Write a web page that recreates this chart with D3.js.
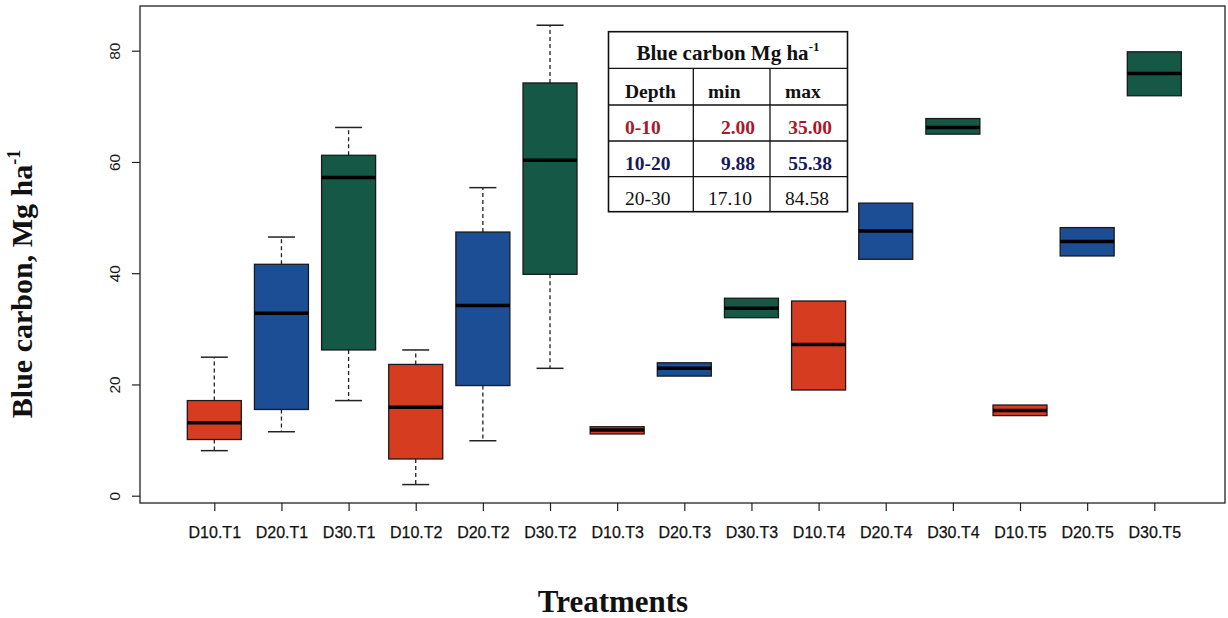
<!DOCTYPE html>
<html>
<head>
<meta charset="utf-8">
<script src="https://cdn.jsdelivr.net/npm/d3@7"></script>
<style>
  html, body { margin: 0; padding: 0; background: #fff; }
  svg { display: block; }
</style>
</head>
<body>
<svg id="chart" width="1228" height="618"></svg>
<script>
// ---------------- data ----------------
const categories = ["D10.T1","D20.T1","D30.T1","D10.T2","D20.T2","D30.T2","D10.T3","D20.T3","D30.T3","D10.T4","D20.T4","D30.T4","D10.T5","D20.T5","D30.T5"];
const depthGroup = ["0-10","10-20","20-30","0-10","10-20","20-30","0-10","10-20","20-30","0-10","10-20","20-30","0-10","10-20","20-30"];
const whiskerLow  = [8.1, 11.5, 17.1, 2.0, 9.88, 22.9, 11.1, 21.5, 32.0, 19.0, 42.5, 65.0, 14.4, 43.1, 71.9];
const q1          = [10.1, 15.5, 26.2, 6.6, 19.8, 39.8, 11.1, 21.5, 32.0, 19.0, 42.5, 65.0, 14.4, 43.1, 71.9];
const median      = [13.1, 32.8, 57.2, 15.9, 34.2, 60.3, 11.8, 22.9, 33.7, 27.2, 47.6, 66.2, 15.3, 45.7, 75.9];
const q3          = [17.1, 41.6, 61.2, 23.6, 47.4, 74.2, 12.4, 23.9, 35.5, 35.0, 52.6, 67.8, 16.3, 48.2, 79.8];
const whiskerHigh = [24.9, 46.5, 66.2, 26.2, 55.38, 84.58, 12.4, 23.9, 35.5, 35.0, 52.6, 67.8, 16.3, 48.2, 79.8];
const yTicks = [0, 20, 40, 60, 80];

const tableTitle = "Blue carbon Mg ha";
const tableHeader = ["Depth", "min", "max"];
const tableDepth = ["0-10", "10-20", "20-30"];
const tableMin = ["2.00", "9.88", "17.10"];
const tableMax = ["35.00", "55.38", "84.58"];

// ---------------- styles ----------------
const fillColor = {"0-10": "#d63c1f", "10-20": "#1b4e95", "20-30": "#155846"};
const tableTextColor = ["#a8192b", "#161a58", "#111"];
const tableWeight = ["bold", "bold", "normal"];
const serif = "'Liberation Serif', 'Times New Roman', serif";
const sans = "'Liberation Sans', Arial, sans-serif";

const svg = d3.select("#chart");
const plot = {left: 140, right: 1225, top: 6, bottom: 503};

const x = d3.scalePoint().domain(categories).range([214.3, 1154.3]);
const y = d3.scaleLinear().domain([0, 80]).range([495.7, 50.7]);
const boxW = 54;

// frame
svg.append("rect")
  .attr("x", plot.left).attr("y", plot.top)
  .attr("width", plot.right - plot.left).attr("height", plot.bottom - plot.top)
  .attr("fill", "none").attr("stroke", "#222").attr("stroke-width", 1.3);

// y axis
const yAx = svg.append("g").attr("transform", `translate(${plot.left},0)`)
  .call(d3.axisLeft(y).tickValues(yTicks).tickSize(8).tickFormat(d3.format("d")));
yAx.select(".domain").remove();
yAx.selectAll(".tick line").attr("stroke", "#222").attr("stroke-width", 1.2);
yAx.selectAll(".tick text")
  .attr("transform", "rotate(-90)")
  .attr("x", 0).attr("y", -20).attr("dy", 0)
  .attr("text-anchor", "middle")
  .attr("font-family", sans).attr("font-size", 15.5).attr("fill", "#1a1a1a");

// x axis
const xAx = svg.append("g").attr("transform", `translate(0,${plot.bottom})`)
  .call(d3.axisBottom(x).tickSize(8));
xAx.select(".domain").remove();
xAx.selectAll(".tick line").attr("stroke", "#222").attr("stroke-width", 1.2);
xAx.selectAll(".tick text")
  .attr("y", 35).attr("dy", 0)
  .attr("font-family", sans).attr("font-size", 16).attr("fill", "#111")
  .attr("stroke", "#111").attr("stroke-width", 0.25);

// boxes
const data = categories.map((c, i) => ({c, g: depthGroup[i], lo: whiskerLow[i], q1: q1[i], med: median[i], q3: q3[i], hi: whiskerHigh[i]}));
const gB = svg.append("g");
data.forEach(d => {
  const cx = x(d.c);
  const grp = gB.append("g");
  if (d.hi > d.q3) {
    grp.append("line").attr("x1", cx).attr("x2", cx).attr("y1", y(d.q3)).attr("y2", y(d.hi))
      .attr("stroke", "#222").attr("stroke-width", 1.3).attr("stroke-dasharray", "4,3");
    grp.append("line").attr("x1", cx - boxW / 4).attr("x2", cx + boxW / 4).attr("y1", y(d.hi)).attr("y2", y(d.hi))
      .attr("stroke", "#222").attr("stroke-width", 1.5);
  }
  if (d.lo < d.q1) {
    grp.append("line").attr("x1", cx).attr("x2", cx).attr("y1", y(d.q1)).attr("y2", y(d.lo))
      .attr("stroke", "#222").attr("stroke-width", 1.3).attr("stroke-dasharray", "4,3");
    grp.append("line").attr("x1", cx - boxW / 4).attr("x2", cx + boxW / 4).attr("y1", y(d.lo)).attr("y2", y(d.lo))
      .attr("stroke", "#222").attr("stroke-width", 1.5);
  }
  grp.append("rect")
    .attr("x", cx - boxW / 2).attr("width", boxW)
    .attr("y", y(d.q3)).attr("height", y(d.q1) - y(d.q3))
    .attr("fill", fillColor[d.g]).attr("stroke", "#1a1a1a").attr("stroke-width", 1.3);
  grp.append("line").attr("x1", cx - boxW / 2).attr("x2", cx + boxW / 2)
    .attr("y1", y(d.med)).attr("y2", y(d.med))
    .attr("stroke", "#000").attr("stroke-width", 3.5);
});

// inset table
const tb = {left: 608.5, right: 847.5, rows: [31.7, 68.3, 105, 141, 176.7, 211.7], cols: [608.5, 693.3, 770, 847.5]};
const gT = svg.append("g");
gT.append("rect").attr("x", tb.left).attr("y", tb.rows[0])
  .attr("width", tb.right - tb.left).attr("height", tb.rows[5] - tb.rows[0])
  .attr("fill", "#fff").attr("stroke", "#111").attr("stroke-width", 1.6);
tb.rows.slice(1, 5).forEach(r => {
  gT.append("line").attr("x1", tb.left).attr("x2", tb.right).attr("y1", r).attr("y2", r)
    .attr("stroke", "#111").attr("stroke-width", 1.3);
});
[tb.cols[1], tb.cols[2]].forEach(c => {
  gT.append("line").attr("x1", c).attr("x2", c).attr("y1", tb.rows[1]).attr("y2", tb.rows[5])
    .attr("stroke", "#111").attr("stroke-width", 1.3);
});
const title = gT.append("text").attr("x", 728).attr("y", 60)
  .attr("text-anchor", "middle").attr("font-family", serif).attr("font-weight", "bold")
  .attr("font-size", 21).attr("fill", "#111");
title.append("tspan").text(tableTitle);
title.append("tspan").attr("font-size", 13).attr("dy", -9).text("-1");

const hdrX = [625, 708, 785];
tableHeader.forEach((h, j) => {
  gT.append("text").attr("x", hdrX[j]).attr("y", 98)
    .attr("font-family", serif).attr("font-weight", "bold").attr("font-size", 19.5)
    .attr("fill", "#111").text(h);
});
const rowBase = [134, 170, 205];
tableDepth.forEach((dep, i) => {
  const common = t => t.attr("y", rowBase[i]).attr("font-family", serif)
    .attr("font-weight", tableWeight[i]).attr("font-size", 19.5).attr("fill", tableTextColor[i]);
  common(gT.append("text").attr("x", 625).text(dep));
  if (i < 2) {
    common(gT.append("text").attr("x", 755).attr("text-anchor", "end").text(tableMin[i]));
    common(gT.append("text").attr("x", 832).attr("text-anchor", "end").text(tableMax[i]));
  } else {
    common(gT.append("text").attr("x", 708).text(tableMin[i]));
    common(gT.append("text").attr("x", 785).text(tableMax[i]));
  }
});

// axis titles
const yt = svg.append("text").attr("transform", "translate(32,284) rotate(-90)")
  .attr("text-anchor", "middle").attr("font-family", serif).attr("font-weight", "bold")
  .attr("font-size", 30).attr("fill", "#111");
yt.append("tspan").text("Blue carbon, Mg ha");
yt.append("tspan").attr("font-size", 18).attr("dy", -12).text("-1");

svg.append("text").attr("x", 613).attr("y", 612)
  .attr("text-anchor", "middle").attr("font-family", serif).attr("font-weight", "bold")
  .attr("font-size", 31).attr("fill", "#111").text("Treatments");
</script>
</body>
</html>
